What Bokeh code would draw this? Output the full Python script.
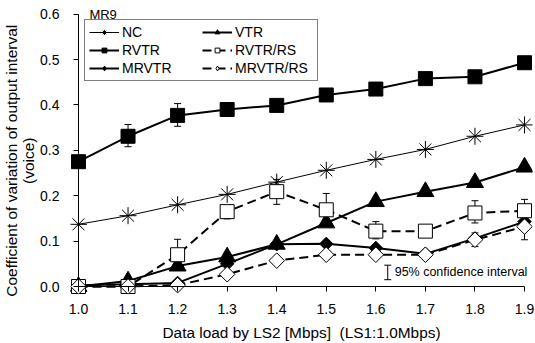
import numpy as np
from bokeh.plotting import figure
from bokeh.models import (Range1d, FixedTicker, Legend, LegendItem, Whisker,
                          TeeHead, ColumnDataSource, Label, LinearAxis)
from bokeh.embed import file_html
from bokeh.resources import INLINE

# ---------------- data ----------------
x_load = [1.0, 1.1, 1.2, 1.3, 1.4, 1.5, 1.6, 1.7, 1.8, 1.9]
nc = [0.137, 0.156, 0.180, 0.203, 0.230, 0.256, 0.280, 0.302, 0.331, 0.356]
vtr = [0.0, 0.012, 0.045, 0.065, 0.093, 0.140, 0.187, 0.209, 0.229, 0.263]
rvtr = [0.275, 0.331, 0.377, 0.390, 0.399, 0.422, 0.435, 0.458, 0.462, 0.493]
rvtr_rs = [0.0, 0.0, 0.070, 0.165, 0.209, 0.169, 0.122, 0.122, 0.162, 0.167]
mrvtr = [0.003, 0.005, 0.008, 0.050, 0.093, 0.094, 0.085, 0.072, 0.106, 0.143]
mrvtr_rs = [0.0, 0.0, 0.003, 0.027, 0.057, 0.070, 0.070, 0.070, 0.103, 0.132]

# 95% confidence intervals (visible ones)
rvtr_err_x = [1.1, 1.2]
rvtr_err_lo = [0.308, 0.353]
rvtr_err_hi = [0.357, 0.403]
rvtr_rs_err_x = [1.2, 1.3, 1.4, 1.5, 1.6, 1.8, 1.9]
rvtr_rs_err_lo = [0.045, 0.149, 0.181, 0.135, 0.105, 0.140, 0.142]
rvtr_rs_err_hi = [0.104, 0.178, 0.236, 0.205, 0.143, 0.189, 0.192]
mrvtr_rs_err_x = [1.8, 1.9]
mrvtr_rs_err_lo = [0.088, 0.103]
mrvtr_rs_err_hi = [0.118, 0.160]

x_ticks = [1.0, 1.1, 1.2, 1.3, 1.4, 1.5, 1.6, 1.7, 1.8, 1.9]
x_tick_labels = ["1.0", "1.1", "1.2", "1.3", "1.4", "1.5", "1.6", "1.7", "1.8", "1.9"]
y_ticks = [0.0, 0.1, 0.2, 0.3, 0.4, 0.5, 0.6]
y_tick_labels = ["0.0", "0.1", "0.2", "0.3", "0.4", "0.5", "0.6"]

x_title = "Data load by LS2 [Mbps]\u00a0 (LS1:1.0Mbps)"
y_title_1 = "Coefficient of variation of output interval"
y_title_2 = "(voice)"

FONT = "Liberation Sans"
PAD = "\u00a0" * 5   # trailing padding nudges the rotated title downward

# ---------------- figure ----------------
p = figure(width=535, height=343,
           x_range=Range1d(0.9839, 1.9161), y_range=Range1d(-0.0176, 0.6191),
           min_border_left=68, min_border_right=3, min_border_top=5,
           min_border_bottom=48,
           output_backend="svg", toolbar_location=None)
p.grid.visible = False
p.outline_line_color = None
p.background_fill_color = "white"
p.border_fill_color = "white"

# label axes (at the frame edges, no line / ticks)
xa = p.xaxis[0]
xa.ticker = FixedTicker(ticks=x_ticks)
xa.major_label_overrides = {t: l for t, l in zip(x_ticks, x_tick_labels)}
xa.axis_label = x_title

ya = p.yaxis[0]
ya.ticker = FixedTicker(ticks=y_ticks)
ya.major_label_overrides = {t: l for t, l in zip(y_ticks, y_tick_labels)}
ya.axis_label = y_title_1 + PAD + "\n" + y_title_2 + PAD

for ax in (xa, ya):
    ax.axis_line_color = None
    ax.major_tick_line_color = None
    ax.major_tick_in = 0
    ax.major_tick_out = 0
    ax.minor_tick_line_color = None
    ax.major_label_text_font = FONT
    ax.major_label_text_font_size = "14px"
    ax.major_label_text_color = "black"
    ax.axis_label_text_font = FONT
    ax.axis_label_text_font_style = "normal"
    ax.axis_label_text_color = "black"
xa.axis_label_text_font_size = "15.4px"
ya.axis_label_text_font_size = "15.5px"
ya.axis_label_text_line_height = 1.0
xa.major_label_standoff = 9
xa.axis_label_standoff = 7
ya.major_label_standoff = 11
ya.axis_label_standoff = 0

# line / tick axes placed at the data origin
xline = LinearAxis(fixed_location=0.0, bounds=(1.0, 1.9),
                   ticker=FixedTicker(ticks=x_ticks))
yline = LinearAxis(fixed_location=1.0, bounds=(0.0, 0.6),
                   ticker=FixedTicker(ticks=y_ticks))
for ax in (xline, yline):
    ax.axis_line_color = "black"
    ax.axis_line_width = 1
    ax.major_tick_line_color = "black"
    ax.major_tick_in = 0
    ax.major_tick_out = 5
    ax.minor_tick_line_color = None
    ax.major_label_text_alpha = 0
p.add_layout(xline, "below")
p.add_layout(yline, "left")

# ---------------- error bars ----------------
def add_err(xs, lo, hi):
    src = ColumnDataSource(dict(base=xs, lower=lo, upper=hi))
    w = Whisker(source=src, base="base", lower="lower", upper="upper",
                dimension="height", line_color="black", line_width=1,
                upper_head=TeeHead(size=7, line_color="black", line_width=1),
                lower_head=TeeHead(size=7, line_color="black", line_width=1),
                level="underlay")
    p.add_layout(w)

add_err(rvtr_err_x, rvtr_err_lo, rvtr_err_hi)
add_err(rvtr_rs_err_x, rvtr_rs_err_lo, rvtr_rs_err_hi)
add_err(mrvtr_rs_err_x, mrvtr_rs_err_lo, mrvtr_rs_err_hi)

# ---------------- series ----------------
series = [
    # name, values, line width, dash, marker, size, fill, angle, legend marker
    ("NC", nc, 1, "solid", "asterisk", 17, "black", 0.0, None),
    ("RVTR", rvtr, 2, "solid", "square", 14, "black", 0.0, None),
    ("VTR", vtr, 2, "solid", "triangle", 17, "black", 0.0, None),
    ("MRVTR", mrvtr, 2, "solid", "square", 9.5, "black", np.pi / 4, "diamond"),
    ("RVTR/RS", rvtr_rs, 2, "9 5", "square", 14, "white", 0.0, None),
    ("MRVTR/RS", mrvtr_rs, 2, "9 5", "square", 11, "white", np.pi / 4, "diamond"),
]

line_r = {}
for name, vals, lw, dash, mk, sz, fill, ang, lmk in series:
    line_r[name] = p.line(x_load, vals, line_color="black", line_width=lw,
                          line_dash=dash)
legend_r = {}
for name, vals, lw, dash, mk, sz, fill, ang, lmk in series:
    r = p.scatter(x_load, vals, marker=mk, size=sz, angle=ang,
                  line_color="black", fill_color=fill, line_width=1)
    if lmk is None:
        legend_r[name] = [line_r[name], r]
    else:
        # hidden twin used only for the legend swatch (legend ignores angle)
        lg = p.scatter(x_load, vals, marker=lmk, size=sz, line_color="black",
                       fill_color=fill, line_width=1, visible=False)
        legend_r[name] = [line_r[name], lg]

order = ["NC", "RVTR", "MRVTR", "VTR", "RVTR/RS", "MRVTR/RS"]
items = [LegendItem(label=n, renderers=legend_r[n]) for n in order]
legend = Legend(items=items, ncols=2, location=(14, 213),
                glyph_width=30, glyph_height=12, label_standoff=3,
                label_width=78, label_height=16, spacing=2, padding=4,
                margin=0, inactive_fill_alpha=0,
                label_text_font=FONT, label_text_font_size="14px",
                label_text_color="black",
                border_line_color="black", border_line_width=1.5,
                background_fill_color="white", background_fill_alpha=1)
p.add_layout(legend, "center")

# ---------------- annotations ----------------
p.add_layout(Label(x=1.022, y=0.6, text="MR9", text_font=FONT,
                   text_font_size="13px", text_baseline="middle",
                   text_color="black"))

ci_x, ci_lo, ci_hi = 1.624, 0.015, 0.047
add_err([ci_x], [ci_lo], [ci_hi])
p.add_layout(Label(x=1.638, y=(ci_lo + ci_hi) / 2, text="95% confidence interval",
                   text_font=FONT, text_font_size="12.5px",
                   text_baseline="middle", text_color="black"))

open("out.html", "w").write(file_html(p, INLINE))
